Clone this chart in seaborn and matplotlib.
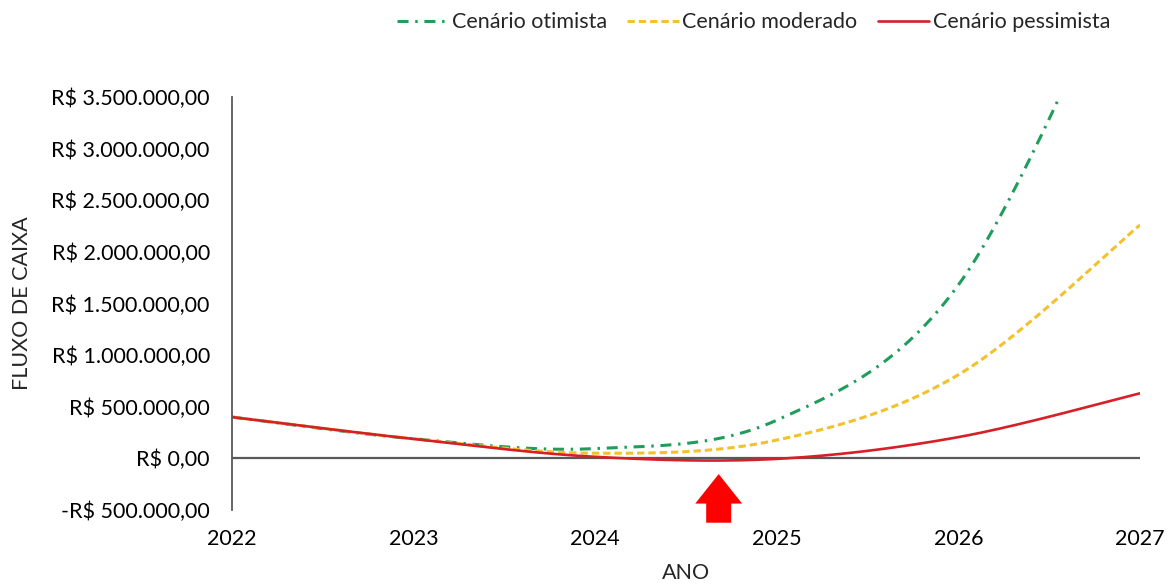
import numpy as np
import pandas as pd
import matplotlib
matplotlib.use("Agg")
import matplotlib.pyplot as plt
import seaborn as sns

# Annual cash-flow projections (R$)
anos = [2022, 2023, 2024, 2025, 2026, 2027]
otimista = [400000, 190000, 95000, 370000, 1680000, 5200000]
moderado = [400000, 190000, 50000, 177000, 810000, 2260000]
pessimista = [400000, 188000, 15000, -5000, 206000, 630000]

series_names = ["Cenário otimista", "Cenário moderado", "Cenário pessimista"]
series_values = [otimista, moderado, pessimista]
series_colors = ["#1E9E5A", "#F2C12E", "#D61F26"]
series_styles = [(0, (3.6, 2.2, 0.8, 2.2)), (0, (2.4, 1.3)), "-"]

payback_ano = 2024.68


def smooth_path(xs, ys, n=60):
    """Bezier smoothing through every point (spreadsheet-style smoothed line)."""
    pts = np.column_stack([xs, ys]).astype(float)
    ext = np.vstack([pts[0], pts, pts[-1]])
    out = []
    t = np.linspace(0, 1, n)[:, None]
    for i in range(1, len(ext) - 2):
        p0, p1, p2, p3 = ext[i - 1], ext[i], ext[i + 1], ext[i + 2]
        c1 = p1 + (p2 - p0) / 6.0
        c2 = p2 - (p3 - p1) / 6.0
        seg = ((1 - t) ** 3) * p1 + 3 * ((1 - t) ** 2) * t * c1 + 3 * (1 - t) * t ** 2 * c2 + t ** 3 * p2
        out.append(seg if i == 1 else seg[1:])
    arr = np.vstack(out)
    return arr[:, 0], arr[:, 1]


def brl(v, pos=None):
    s = f"{abs(v):,.2f}".replace(",", "X").replace(".", ",").replace("X", ".")
    return ("-R$ " if v < 0 else "R$ ") + s


sns.set_theme(style="white")
plt.rcParams["font.family"] = ["Lato", "DejaVu Sans"]

FS = 15.5

fig = plt.figure(figsize=(11.7, 5.87), dpi=100)
ax = fig.add_axes([232 / 1170, 1 - 510 / 587, (1140 - 232) / 1170, (510 - 97) / 587])

for name, vals, color, ls in zip(series_names, series_values, series_colors, series_styles):
    sx, sy = smooth_path(anos, vals)
    df = pd.DataFrame({"ano": sx, "valor": sy})
    sns.lineplot(data=df, x="ano", y="valor", ax=ax, sort=False, color=color,
                 linewidth=2.2 if ls != "-" else 1.9, linestyle=ls, label=name)

ax.axhline(0, color="#595959", linewidth=1.6, zorder=1)

ax.set_xlim(anos[0], anos[-1])
ax.set_ylim(-500000, 3500000)
ax.set_yticks(np.arange(-500000, 3500001, 500000))
ax.yaxis.set_major_formatter(matplotlib.ticker.FuncFormatter(brl))
ax.set_xticks(anos)
ax.set_xticklabels([str(a) for a in anos])
ax.tick_params(axis="both", length=0, labelsize=FS, colors="#000000")
ax.tick_params(axis="y", pad=16)
ax.tick_params(axis="x", pad=14)

for side in ["top", "right", "bottom"]:
    ax.spines[side].set_visible(False)
ax.spines["left"].set_color("#595959")
ax.spines["left"].set_linewidth(1.3)

ax.set_xlabel("ANO", fontsize=FS, labelpad=10)
ax.set_ylabel("FLUXO DE CAIXA", fontsize=FS, labelpad=14)

# Payback marker arrow below the zero line
ax.annotate("", xy=(payback_ano, -125000), xytext=(payback_ano, -650000),
            arrowprops=dict(arrowstyle="simple,head_length=0.85,head_width=1.35,tail_width=0.72",
                            color="#FF0000", lw=0, mutation_scale=25),
            annotation_clip=False)

handles, labels = ax.get_legend_handles_labels()
ax.get_legend().remove()
fig.legend(handles, labels, loc="upper center", bbox_to_anchor=(0.644, 1.012), ncol=3,
           frameon=False, fontsize=FS, handlelength=2.4, handletextpad=0.15,
           columnspacing=0.95)

fig.savefig("out.png", dpi=100, facecolor="white")
